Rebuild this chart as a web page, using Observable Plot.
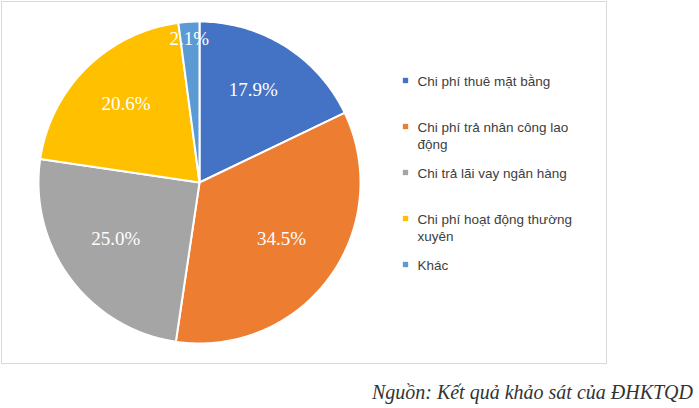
<!DOCTYPE html>
<html>
<head>
<meta charset="utf-8">
<script src="https://cdn.jsdelivr.net/npm/d3@7"></script>
<script src="https://cdn.jsdelivr.net/npm/@observablehq/plot@0.6"></script>
<style>
  body { margin: 0; background: #fff; }
  #wrap { width: 699px; }
  #caption { font-family: "Liberation Serif", "Times New Roman", serif; font-style: italic; font-size: 20px; color: #333; text-align: right; padding-right: 6px; margin-top: 16px; }
</style>
</head>
<body>
<div id="wrap"><div id="chart"></div><div id="caption">Nguồn: Kết quả khảo sát của ĐHKTQD</div></div>
<script>
const categories = ["Chi phí thuê mặt bằng", "Chi phí trả nhân công lao động", "Chi trả lãi vay ngân hàng", "Chi phí hoạt động thường xuyên", "Khác"];
const values = [17.9, 34.5, 25.0, 20.6, 2.1];
const colors = ["#4472C4", "#ED7D31", "#A5A5A5", "#FFC000", "#5B9BD5"];

const W = 699, H = 365;
const cx = 199, cy = 182, R = 161;

const arcs = d3.pie().sort(null).value(d => d.v)(categories.map((c, i) => ({c, v: values[i]})));

const slicePts = [];
arcs.forEach(a => {
  const steps = Math.max(2, Math.ceil((a.endAngle - a.startAngle) / (Math.PI / 180)));
  slicePts.push({c: a.data.c, x: cx, y: cy});
  for (let k = 0; k <= steps; k++) {
    const t = a.startAngle + (a.endAngle - a.startAngle) * k / steps;
    slicePts.push({c: a.data.c, x: cx + R * Math.sin(t), y: cy - R * Math.cos(t)});
  }
  slicePts.push({c: a.data.c, x: cx, y: cy});
});

const labels = arcs.map(a => {
  const m = (a.startAngle + a.endAngle) / 2;
  const frac = a.data.v < 5 ? 0.86 : 0.64;
  return {c: a.data.c, text: a.data.v.toFixed(1) + "%", x: cx - 1 + R * frac * Math.sin(m), y: cy - 5 - R * frac * Math.cos(m)};
});

const legend = categories.map((c, i) => ({c, x: 405, y: 80 + 46 * i}));

const chart = Plot.plot({
  width: W, height: H,
  margin: 0,
  x: {type: "linear", domain: [0, W], range: [0, W], axis: null},
  y: {type: "linear", domain: [0, H], range: [0, H], axis: null},
  color: {domain: categories, range: colors},
  style: {background: "#fff"},
  marks: [
    Plot.frame({stroke: "#d9d9d9", insetLeft: 1, insetTop: 1, insetRight: 93, insetBottom: 2}),
    Plot.line(slicePts, {x: "x", y: "y", z: "c", fill: "c", stroke: "#fff", strokeWidth: 2, strokeLinejoin: "round", curve: "linear-closed"}),
    Plot.text(labels, {x: "x", y: "y", text: "text", fill: "#fff", fontSize: 19, fontFamily: "Liberation Serif, Times New Roman, serif"}),
    Plot.dot(legend, {x: "x", y: "y", fill: "c", symbol: "square", r: 3}),
    Plot.text(legend, {x: d => d.x + 12, y: d => d.y - 7, text: "c", textAnchor: "start", lineAnchor: "top", lineWidth: 13.5, lineHeight: 1.27, fontSize: 13.5, fill: "#404040", fontFamily: "Liberation Sans, Arial, sans-serif"})
  ]
});
document.getElementById("chart").appendChild(chart);
</script>
</body>
</html>
